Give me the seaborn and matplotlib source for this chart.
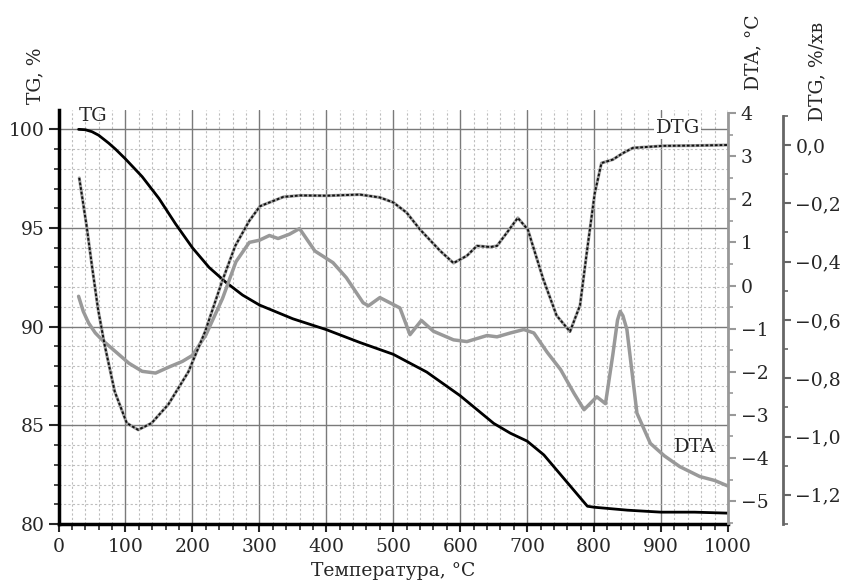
import numpy as np
import pandas as pd
import matplotlib
matplotlib.use("Agg")
import matplotlib.pyplot as plt
import seaborn as sns
from matplotlib.ticker import MultipleLocator, FixedLocator, FuncFormatter

# ---------------- data ----------------
temp_tg = [30, 40, 50, 60, 75, 85, 100, 125, 150, 175, 200, 225, 250, 275, 300, 350, 400, 450,
           500, 550, 600, 650, 675, 700, 725, 750, 775, 790, 800, 850, 900, 950, 1000]
tg = [100.0, 99.98, 99.88, 99.7, 99.3, 99.0, 98.5, 97.6, 96.5, 95.2, 94.0, 93.0, 92.25, 91.6,
      91.1, 90.4, 89.85, 89.2, 88.6, 87.7, 86.5, 85.1, 84.6, 84.2, 83.5, 82.5, 81.5, 80.9,
      80.85, 80.7, 80.6, 80.6, 80.55]

temp_dta = [30, 37, 45, 55, 65, 85, 105, 125, 145, 165, 185, 200, 220, 245, 265, 285, 300, 315,
            328, 345, 360, 383, 410, 430, 455, 463, 480, 500, 510, 525, 542, 560, 590, 610, 640,
            655, 675, 695, 710, 730, 750, 770, 785, 804, 817, 828, 835, 839, 843, 849, 864,
            884, 905, 928, 958, 980, 1000]
dta = [-0.25, -0.6, -0.87, -1.1, -1.26, -1.53, -1.8, -1.99, -2.03, -1.89, -1.76, -1.62, -1.15,
       -0.3, 0.55, 1.0, 1.05, 1.16, 1.09, 1.19, 1.32, 0.8, 0.53, 0.18, -0.4, -0.47, -0.28,
       -0.44, -0.52, -1.14, -0.81, -1.06, -1.26, -1.3, -1.16, -1.19, -1.1, -1.02, -1.1, -1.55,
       -1.95, -2.5, -2.88, -2.58, -2.74, -1.6, -0.8, -0.6, -0.7, -1.02, -2.96, -3.66, -3.95,
       -4.2, -4.43, -4.52, -4.65]

temp_dtg = [31, 42, 50, 59, 69, 84, 102, 119, 139, 164, 194, 219, 244, 264, 285, 301, 336, 361,
            401, 450, 480, 500, 520, 540, 570, 590, 610, 625, 645, 655, 670, 686, 701, 724, 744,
            764, 779, 789, 801, 811, 828, 843, 858, 903, 950, 1000]
dtg = [-0.113, -0.278, -0.415, -0.562, -0.687, -0.846, -0.954, -0.977, -0.954, -0.89, -0.778,
       -0.64, -0.47, -0.346, -0.26, -0.21, -0.178, -0.173, -0.174, -0.17, -0.18, -0.197, -0.232,
       -0.29, -0.363, -0.405, -0.38, -0.346, -0.35, -0.346, -0.30, -0.25, -0.29, -0.46, -0.585,
       -0.64, -0.55, -0.37, -0.165, -0.062, -0.05, -0.028, -0.01, -0.003, -0.002, 0.0]

x_ticks = [0, 100, 200, 300, 400, 500, 600, 700, 800, 900, 1000]
tg_ticks = [80, 85, 90, 95, 100]
dta_ticks = [-5, -4, -3, -2, -1, 0, 1, 2, 3, 4]
dtg_ticks = [0.0, -0.2, -0.4, -0.6, -0.8, -1.0, -1.2]

df_tg = pd.DataFrame({"T": temp_tg, "TG": tg})
df_dta = pd.DataFrame({"T": temp_dta, "DTA": dta})
df_dtg = pd.DataFrame({"T": temp_dtg, "DTG": dtg})

# ---------------- style ----------------
sns.set_style("white")
plt.rcParams['font.family'] = ['DejaVu Serif']
plt.rcParams['axes.unicode_minus'] = True
FS = 13.5

fig = plt.figure(figsize=(8.43, 5.81), dpi=100)
ax = fig.add_axes([58.5 / 843, 57 / 581, 669.5 / 843, 414 / 581])

# TG
sns.lineplot(data=df_tg, x="T", y="TG", ax=ax, color="black", lw=2.0,
             sort=False, estimator=None, zorder=3)
ax.set_xlim(0, 1000)
ax.set_ylim(80, 100.98)
ax.xaxis.set_major_locator(FixedLocator(x_ticks))
ax.xaxis.set_minor_locator(MultipleLocator(20))
ax.yaxis.set_major_locator(FixedLocator(tg_ticks))
ax.yaxis.set_minor_locator(MultipleLocator(1))
ax.grid(which="major", color="#7a7a7a", lw=1.0, ls="-")
ax.grid(which="minor", color="#bdbdbd", lw=0.8, ls=(0, (2, 2)))
ax.set_axisbelow(True)
for s in ["top", "right"]:
    ax.spines[s].set_visible(False)
for s in ["left", "bottom"]:
    ax.spines[s].set_color("black")
    ax.spines[s].set_linewidth(2.5)
ax.tick_params(axis="x", which="major", direction="out", length=6, width=1.5,
               labelsize=FS, pad=4, bottom=True)
ax.tick_params(axis="x", which="minor", direction="out", length=4, width=1.2, bottom=True)
ax.tick_params(axis="y", which="major", direction="out", length=7, width=1.5,
               labelsize=FS, pad=3, left=True)
ax.tick_params(axis="y", which="minor", direction="out", length=3.6, width=1.2, left=True)
ax.set_xlabel("")
ax.set_ylabel("")

# DTA
ax2 = ax.twinx()
sns.lineplot(data=df_dta, x="T", y="DTA", ax=ax2, color="#999999", lw=2.5,
             sort=False, estimator=None)
ax2.set_ylim(-5.53, 4.07)
ax2.yaxis.set_major_locator(FixedLocator(dta_ticks))
ax2.yaxis.set_minor_locator(MultipleLocator(0.5))
for s in ["top", "left", "bottom"]:
    ax2.spines[s].set_visible(False)
ax2.spines["right"].set_color("#999999")
ax2.spines["right"].set_linewidth(2.0)
ax2.spines["right"].set_bounds(-5.5, 4.0)
ax2.tick_params(axis="y", which="major", direction="out", length=6, width=1.5,
                color="#999999", labelsize=FS, pad=3, right=True)
ax2.tick_params(axis="y", which="minor", direction="out", length=3.6, width=1.2,
                color="#999999", right=True)
ax2.set_xlabel("")
ax2.set_ylabel("")

# DTG
ax3 = ax.twinx()
sns.lineplot(data=df_dtg, x="T", y="DTG", ax=ax3, color="#a0a0a0", lw=2.2,
             sort=False, estimator=None)
sns.lineplot(data=df_dtg, x="T", y="DTG", ax=ax3, color="#111111", lw=1.4,
             sort=False, estimator=None, dashes=False, linestyle=(0, (1.4, 1.0)))
ax3.set_ylim(-1.30, 0.12)
ax3.yaxis.set_major_locator(FixedLocator(dtg_ticks))
ax3.yaxis.set_minor_locator(MultipleLocator(0.1))


def dtg_fmt(v, pos):
    if abs(v) < 1e-9:
        return "0,0"
    return f"{v:.1f}".replace(".", ",").replace("-", "\u2212")


ax3.yaxis.set_major_formatter(FuncFormatter(dtg_fmt))
for s in ["top", "left", "bottom"]:
    ax3.spines[s].set_visible(False)
ax3.spines["right"].set_position(("axes", 1.082))
ax3.spines["right"].set_color("#666666")
ax3.spines["right"].set_linewidth(2.0)
ax3.spines["right"].set_bounds(-1.3, 0.1)
ax3.tick_params(axis="y", which="major", direction="out", length=6, width=1.5,
                color="#666666", labelsize=FS, pad=3, right=True)
ax3.tick_params(axis="y", which="minor", direction="out", length=3.6, width=1.2,
                color="#666666", right=True)
ax3.set_xlabel("")
ax3.set_ylabel("")

# in-plot labels
ax.text(51, 100.7, "TG", ha="center", va="center", fontsize=14, zorder=5)
ax.text(925, 100.05, "DTG", ha="center", va="center", fontsize=14, zorder=5,
        bbox=dict(fc="white", ec="none", pad=1.0))
ax.text(951, 83.9, "DTA", ha="center", va="center", fontsize=14, zorder=5)

# axis titles
fig.text(35 / 843, 1 - 76 / 581, "TG, %", rotation=90, ha="center", va="center", fontsize=FS)
fig.text(753 / 843, 1 - 52 / 581, "DTA, °C", rotation=90, ha="center", va="center", fontsize=FS)
fig.text(817 / 843, 1 - 71 / 581, "DTG, %/хв", rotation=90, ha="center", va="center", fontsize=FS)
fig.text(393 / 843, 1 - 571 / 581, "Температура, °C", ha="center", va="center", fontsize=FS)

fig.savefig("out.png", dpi=100)
